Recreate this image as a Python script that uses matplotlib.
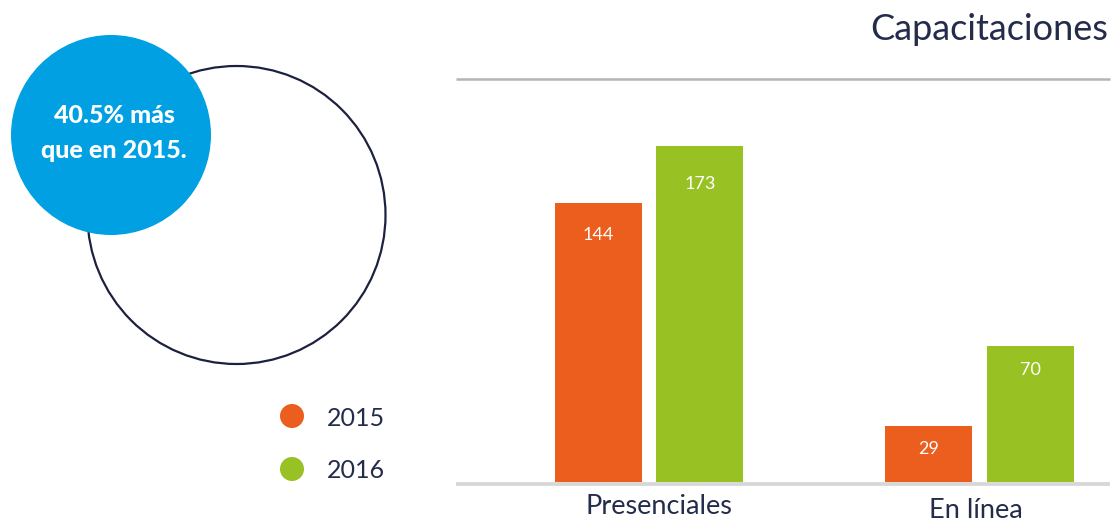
import matplotlib.pyplot as plt
import matplotlib.patches as mpatches
import numpy as np

FONT = 'Lato'
NAVY = '#232c4a'
ORANGE = '#eb5e1e'
GREEN = '#98c124'
BLUE = '#00a0e2'

categories = ['Presenciales', 'En línea']
years = ['2015', '2016']
values_2015 = [144, 29]
values_2016 = [173, 70]
title = 'Capacitaciones'
callout = '40.5% más\nque en 2015.'

W, H = 1114, 522


def fx(px):
    return px / W


def fy(py):
    return 1 - py / H


fig = plt.figure(figsize=(W / 100, H / 100), dpi=100)

# background layer in pixel coordinates for circles, rules and legend
bg = fig.add_axes([0, 0, 1, 1])
bg.set_xlim(0, W)
bg.set_ylim(H, 0)
bg.axis('off')
bg.add_patch(mpatches.Circle((236.5, 215), 149, facecolor='none', edgecolor='#1c2140', lw=1.6))
bg.add_patch(mpatches.Circle((111, 135), 100, facecolor=BLUE, edgecolor='none'))
bg.text(114, 133, callout, ha='center', va='center', color='white', fontsize=18,
        fontweight='black', family=FONT, linespacing=1.6)
bg.plot([456, 1110], [78.5, 78.5], color='#b4b4b4', lw=1.8, solid_capstyle='butt')
bg.plot([456, 1110], [484, 484], color='#d8d8d8', lw=2.8, solid_capstyle='butt')
bg.text(1108, 30, title, ha='right', va='center', color=NAVY, fontsize=26, family=FONT)

for (cy, col), yr in zip([(416, ORANGE), (469, GREEN)], years):
    bg.add_patch(mpatches.Circle((292, cy), 12, facecolor=col, edgecolor='none'))
    bg.text(327, cy + 2, yr, ha='left', va='center', color=NAVY, fontsize=18, family=FONT)

# bar chart
scale = 1.94  # px per unit
left, right, base, top = 456, 1110, 482, 78
ax = fig.add_axes([fx(left), fy(base), fx(right - left), (base - top) / H])
ax.patch.set_alpha(0)
ax.axis('off')
group_px = 330.5
ax.set_xlim(-(649 - left) / group_px, (right - 649) / group_px)
ax.set_ylim(0, (base - top) / scale)

x = np.arange(len(categories))
width = 87 / group_px
off = 101.5 / group_px / 2
b1 = ax.bar(x - off, values_2015, width, color=ORANGE)
b2 = ax.bar(x + off, values_2016, width, color=GREEN)

label_offsets = [[-32, -23], [-38, -24]]
for bars, offs in zip([b1, b2], label_offsets):
    for rect, o in zip(bars, offs):
        ax.annotate(f'{int(rect.get_height())}', (rect.get_x() + rect.get_width() / 2, rect.get_height()),
                    xytext=(0, o * 0.72), textcoords='offset points', ha='center', va='center',
                    color='white', fontsize=13, family=FONT)

cat_shift = [(10, -25), (-4, -29)]
for xi, cat, (dx, dy) in zip(x, categories, cat_shift):
    ax.annotate(cat, (xi, 0), xytext=(dx * 0.72, dy * 0.72), textcoords='offset points', ha='center',
                va='center', color=NAVY, fontsize=19.5, family=FONT, annotation_clip=False)

fig.savefig('out.png', dpi=100)
